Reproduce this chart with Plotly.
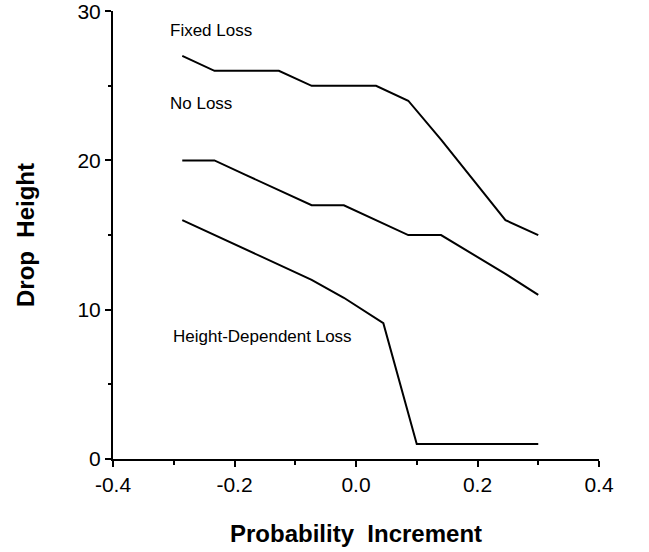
import plotly.graph_objects as go

# x positions (evenly spaced breakpoints)
x_grid = [-0.286, -0.233, -0.180, -0.127, -0.073, -0.020, 0.033, 0.086, 0.140, 0.193, 0.246, 0.300]

fixed_loss = [27, 26, 26, 26, 25, 25, 25, 24, 21.4, 18.7, 16, 15]
no_loss = [20, 20, 19, 18, 17, 17, 16, 15, 15, 13.7, 12.4, 11]

hd_x = [-0.286, -0.233, -0.180, -0.127, -0.073, -0.020, 0.045, 0.100, 0.300]
height_dep_loss = [16, 15, 14, 13, 12, 10.8, 9.1, 1, 1]

labels = ["Fixed Loss", "No Loss", "Height-Dependent Loss"]
label_x = [-0.31, -0.31, -0.305]
label_y = [28.7, 23.8, 8.2]

x_ticks = [-0.4, -0.2, 0.0, 0.2, 0.4]
x_ticktext = ["-0.4", "-0.2", "0.0", "0.2", "0.4"]
y_ticks = [0, 10, 20, 30]

FONT = "Liberation Sans, Arial, Helvetica, sans-serif"

fig = go.Figure()
for xs, ys in [(x_grid, fixed_loss), (x_grid, no_loss), (hd_x, height_dep_loss)]:
    fig.add_trace(go.Scatter(x=xs, y=ys, mode="lines",
                             line=dict(color="black", width=2),
                             showlegend=False, hoverinfo="skip"))

for t, lx, ly in zip(labels, label_x, label_y):
    fig.add_annotation(x=lx, y=ly, text=t, showarrow=False, xanchor="left",
                       yanchor="middle", font=dict(family=FONT, size=17, color="black"))

fig.update_layout(
    width=649, height=552, autosize=False,
    margin=dict(l=113, r=50, t=11, b=93),
    paper_bgcolor="white", plot_bgcolor="white",
    font=dict(family=FONT, color="black"),
)
fig.update_xaxes(
    range=[-0.4, 0.4], tickvals=x_ticks, ticktext=x_ticktext, automargin=False,
    ticklabeloverflow="allow",
    showgrid=False, zeroline=False, showline=True, linecolor="black", linewidth=2,
    ticks="outside", ticklen=6, tickwidth=2, tickcolor="black",
    minor=dict(dtick=0.1, tick0=-0.4, ticks="outside", ticklen=4, tickwidth=1.5, tickcolor="black"),
    tickfont=dict(family=FONT, size=21),
    title=dict(text="<b>Probability  Increment</b>", font=dict(family=FONT, size=24), standoff=30),
)
fig.update_yaxes(
    range=[0, 30.01], tickvals=y_ticks, automargin=False,
    ticklabeloverflow="allow",
    showgrid=False, zeroline=False, showline=True, linecolor="black", linewidth=2,
    ticks="outside", ticklen=6, tickwidth=2, tickcolor="black",
    minor=dict(dtick=5, tick0=0, ticks="outside", ticklen=3, tickwidth=1.5, tickcolor="black"),
    tickfont=dict(family=FONT, size=21),
    title=dict(text="<b>Drop  Height</b>", font=dict(family=FONT, size=24), standoff=36),
)

# remove the default 8px page margin so the figure sits at the window's corner
fig.write_html("out.html", config={"displayModeBar": False},
               post_script="document.body.style.margin='0';document.body.style.overflow='hidden';")
